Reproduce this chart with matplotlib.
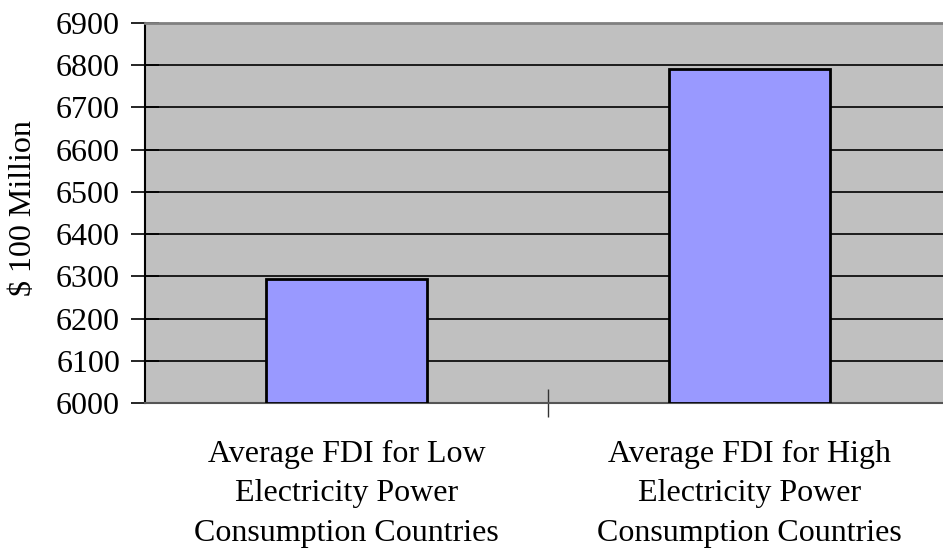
import matplotlib
matplotlib.use("Agg")
import matplotlib.pyplot as plt

categories = [
    "Average FDI for Low\nElectricity Power\nConsumption Countries",
    "Average FDI for High\nElectricity Power\nConsumption Countries",
]
values = [6293, 6792]
y_ticks = [6000, 6100, 6200, 6300, 6400, 6500, 6600, 6700, 6800, 6900]

plt.rcParams['font.family'] = ['Liberation Serif', 'DejaVu Serif']

W, H = 943, 550
fig = plt.figure(figsize=(W / 100, H / 100), dpi=100)
# axes extends slightly past the right edge of the figure, like the original
left, right, top, bottom = 145, 951, 23, 403
ax = fig.add_axes([left / W, 1 - bottom / H, (right - left) / W, (bottom - top) / H])
ax.set_facecolor('#C0C0C0')

x = list(range(len(categories)))
ax.bar(x, [v - 6000 for v in values], bottom=6000, width=0.40,
       color='#9999FF', edgecolor='black', linewidth=2, zorder=3)

ax.set_xlim(-0.5, 1.5)
ax.set_ylim(6000, 6900)
ax.set_yticks(y_ticks)
ax.set_yticklabels([str(t) for t in y_ticks], fontsize=23)
ax.yaxis.grid(True, color='black', linewidth=1.2, zorder=1)
ax.set_axisbelow(True)

# category tick between the two groups
ax.set_xticks([0.5])
ax.set_xticklabels([''])
ax.tick_params(axis='x', direction='inout', length=20, width=1, color='#333333')
ax.tick_params(axis='y', direction='inout', length=20, width=1.2, pad=8)

for xi, lab in zip(x, categories):
    ax.text(xi, -0.097, lab, transform=ax.get_xaxis_transform(), ha='center',
            va='top', fontsize=23, linespacing=1.48)

ax.spines['top'].set_color('#808080')
ax.spines['top'].set_linewidth(2)
ax.spines['right'].set_visible(False)
ax.spines['bottom'].set_color('#555555')
ax.spines['bottom'].set_linewidth(1.5)
ax.spines['left'].set_linewidth(1.5)

fig.text(24 / W, 1 - 208 / H, '$ 100 Million', rotation=90, ha='center',
         va='center', fontsize=23)

fig.savefig('out.png', dpi=100)
